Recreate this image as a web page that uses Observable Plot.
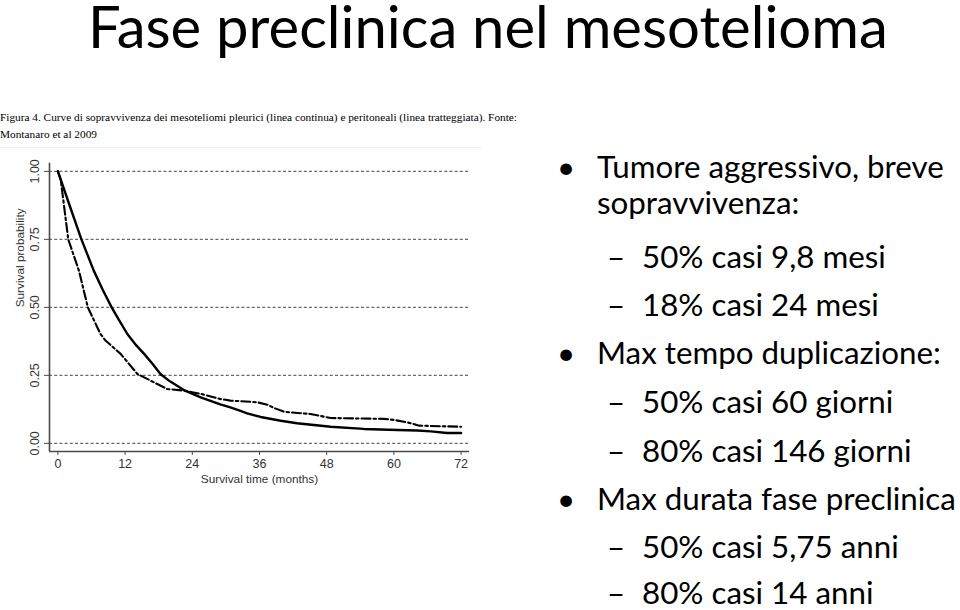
<!DOCTYPE html>
<html><head><meta charset="utf-8">
<script src="https://cdn.jsdelivr.net/npm/d3@7"></script>
<script src="https://cdn.jsdelivr.net/npm/@observablehq/plot@0.6"></script>
<style>
html,body{margin:0;padding:0;background:#fff}
body{width:960px;height:610px;overflow:hidden;position:relative}
.abs{position:absolute;white-space:nowrap;line-height:1;margin:0}
.slide{font-family:Lato,"Open Sans",sans-serif;color:#000}
.cap{font-family:"Liberation Serif","Times New Roman",serif;color:#000}
#chart{position:absolute;left:0;top:145px}
#frame{position:absolute;left:0;top:147px;width:481px;height:1px;background:#ececec}
</style></head><body>
<div id="chart"></div>
<div id="frame"></div>
<script>
// ---- data ----
const pleuralMonths = [0, 2, 4.2, 6.4, 8, 9.6, 11, 12.4, 14, 15.4, 17, 18.3, 20, 22.5, 25.5, 29, 30.8, 32.6, 33.8, 36.2, 39.8, 42.7, 48.7, 54.6, 60.6, 64.2, 66.6, 69.5, 72];
const pleuralSurv   = [1.0, 0.88, 0.75, 0.635, 0.565, 0.50, 0.45, 0.402, 0.36, 0.329, 0.29, 0.255, 0.228, 0.196, 0.169, 0.143, 0.132, 0.119, 0.110, 0.097, 0.083, 0.074, 0.061, 0.053, 0.049, 0.047, 0.044, 0.038, 0.038];
const periMonths = [0, 0.5, 1.85, 3.75, 5.35, 7.6, 8.5, 11.2, 14.2, 16.6, 19.5, 22.5, 25.5, 29, 30.8, 32.6, 35.6, 37.4, 38.6, 40.4, 45.1, 48.7, 58.2, 60, 62.4, 64.5, 72];
const periSurv   = [1.0, 0.97, 0.75, 0.635, 0.5, 0.402, 0.378, 0.329, 0.255, 0.23, 0.2, 0.194, 0.182, 0.163, 0.157, 0.155, 0.151, 0.142, 0.130, 0.116, 0.108, 0.093, 0.090, 0.086, 0.077, 0.065, 0.061];
const xTicks = [0, 12, 24, 36, 48, 60, 72];
const yTicks = [0, 0.25, 0.5, 0.75, 1];
const xLabel = "Survival time (months)";
const yLabel = "Survival probability";

const titleText = "Fase preclinica nel mesotelioma";
const captionLines = [
  "Figura 4. Curve di sopravvivenza dei mesoteliomi pleurici (linea continua) e peritoneali (linea tratteggiata). Fonte:",
  "Montanaro et al 2009"
];
const bulletKinds = ["bullet", "cont", "dash", "dash", "bullet", "dash", "dash", "bullet", "dash", "dash"];
const bulletTexts = [
  "Tumore aggressivo, breve",
  "sopravvivenza:",
  "50% casi 9,8 mesi",
  "18% casi 24 mesi",
  "Max tempo duplicazione:",
  "50% casi 60 giorni",
  "80% casi 146 giorni",
  "Max durata fase preclinica",
  "50% casi 5,75 anni",
  "80% casi 14 anni"
];

// ---- layout (positions only) ----
const bulletBaselines = [178, 214, 268, 316, 364, 413, 462, 510, 558, 604];

const pleural = pleuralMonths.map((m, i) => ({m, s: pleuralSurv[i]}));
const peri = periMonths.map((m, i) => ({m, s: periSurv[i]}));

const tickFont = "'Liberation Sans Narrow','Liberation Sans',Arial,sans-serif";
const labelFont = "'Liberation Sans',Arial,sans-serif";

const chart = Plot.plot({
  width: 480, height: 350,
  marginLeft: 49, marginRight: 11, marginTop: 17.7, marginBottom: 44,
  x: {domain: [-1.5, 73.5]},
  y: {domain: [-0.03, 1.03]},
  style: {fontFamily: labelFont, fontSize: "12px", color: "#333", background: "transparent"},
  marks: [
    Plot.gridY({ticks: yTicks, stroke: "#6a6a6a", strokeOpacity: 1, strokeWidth: 1.3, strokeDasharray: "3,2.2"}),
    Plot.ruleX([-1.5], {stroke: "#4a4a4a", strokeWidth: 1.6}),
    Plot.ruleY([-0.03], {stroke: "#4a4a4a", strokeWidth: 1.6}),
    Plot.axisX({ticks: xTicks, tickSize: 4, tickPadding: 4, label: null, fontFamily: tickFont, fontSize: 12.5, stroke: "#4a4a4a", fill: "#333"}),
    Plot.axisY({ticks: yTicks, tickSize: 5, tickPadding: 5.5, tickFormat: d3.format(".2f"), tickRotate: -90, label: null, fontFamily: tickFont, fontSize: 12.5, stroke: "#4a4a4a", fill: "#333"}),
    Plot.text([xLabel], {frameAnchor: "bottom", dy: 28, lineAnchor: "middle", fontSize: 11.8, fill: "#333"}),
    Plot.text([yLabel], {frameAnchor: "left", rotate: -90, dx: -29, lineAnchor: "middle", fontSize: 11.8, fill: "#333"}),
    Plot.line(pleural, {x: "m", y: "s", stroke: "#000", strokeWidth: 2.4}),
    Plot.line(peri, {x: "m", y: "s", stroke: "#000", strokeWidth: 2.1, strokeDasharray: "9,3,2.5,3"})
  ]
});
document.getElementById("chart").appendChild(chart);

// ---- helpers for slide text ----
function fitSize(text, family, targetW) {
  const s = document.createElement("span");
  s.style.cssText = `position:absolute;visibility:hidden;white-space:nowrap;font-family:${family};font-size:100px`;
  s.textContent = text;
  document.body.appendChild(s);
  const w = s.getBoundingClientRect().width;
  s.remove();
  return 100 * targetW / w;
}
function addText(text, cls, size, left, baseline, lh) {
  const el = document.createElement("div");
  el.className = "abs " + cls;
  el.style.fontSize = size + "px";
  if (lh) el.style.lineHeight = lh;
  el.style.left = left + "px";
  el.style.top = "0px";
  const probe = document.createElement("span");
  probe.style.cssText = "display:inline-block;width:0;height:0;vertical-align:baseline";
  el.appendChild(probe);
  el.appendChild(document.createTextNode(text));
  document.body.appendChild(el);
  const b = probe.getBoundingClientRect().bottom - el.getBoundingClientRect().top;
  el.style.top = (baseline - b) + "px";
  return el;
}

const slideFamily = "Lato,'Open Sans',sans-serif";
const capFamily = "'Liberation Serif','Times New Roman',serif";

const titleSize = fitSize(titleText, slideFamily, 800);
addText(titleText, "slide", titleSize, 88, 48, "0.8");

const capSize = fitSize(captionLines[0], capFamily, 518);
addText(captionLines[0], "cap", capSize, 0, 121);
addText(captionLines[1], "cap", capSize, 0, 138);

const bSize = Math.min(fitSize(bulletTexts[0], slideFamily, 353), fitSize(bulletTexts[7], slideFamily, 359));
bulletTexts.forEach((t, i) => {
  const kind = bulletKinds[i];
  const y = bulletBaselines[i];
  if (kind === "bullet") {
    addText("•", "slide", bSize, 557, y, "0.9");
    addText(t, "slide", bSize, 597, y, "0.9");
  } else if (kind === "cont") {
    addText(t, "slide", bSize, 597, y, "0.9");
  } else {
    addText("–", "slide", bSize, 607, y, "0.9");
    addText(t, "slide", bSize, 642, y, "0.9");
  }
});
</script>
</body></html>
